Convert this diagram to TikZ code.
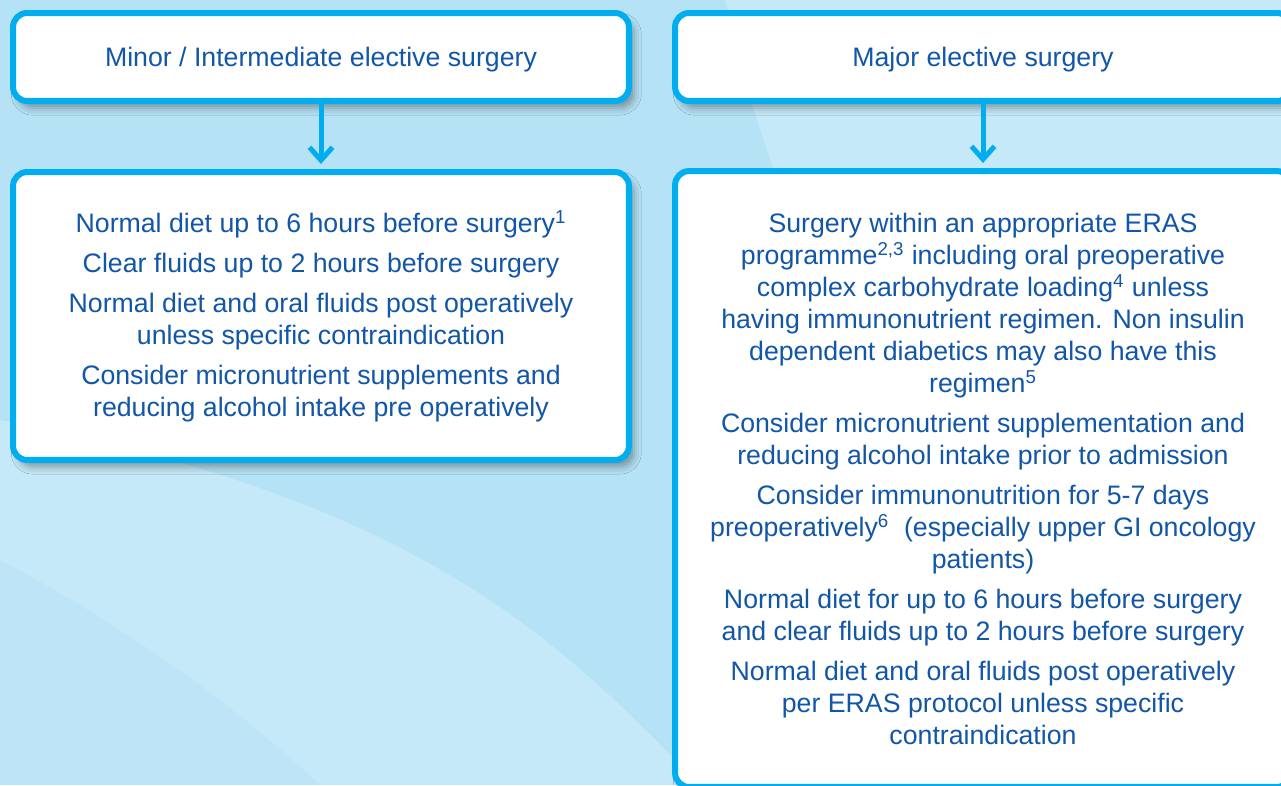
\documentclass[tikz,border=0pt]{standalone}
\usepackage{fontspec}
\setmainfont{Liberation Sans}
\usetikzlibrary{arrows.meta,shadows.blur}
\definecolor{bgblue}{RGB}{197,233,248}
\definecolor{bgdark}{RGB}{181,226,245}
\definecolor{boxline}{RGB}{0,174,239}
\definecolor{txtblue}{RGB}{18,86,168}
\newcommand{\gap}{\\[4.5pt]}
\begin{document}
\begin{tikzpicture}[x=0.02cm,y=-0.02cm,
		stepbox/.style={draw=boxline,line width=0.12cm,rounded corners=0.28cm,fill=white,
			text=txtblue,align=center,minimum width=12.32cm,inner sep=0pt,
			font=\fontsize{15.2}{18.2}\selectfont,
			blur shadow={shadow xshift=3pt,shadow yshift=-4pt,shadow blur radius=4pt,shadow opacity=35}},
		flow/.style={draw=boxline,line width=0.1cm,shorten >=0.1cm,
			-{Straight Barb[length=0.26cm,width=0.46cm]}}]
				\useasboundingbox (0,0) rectangle (1281,785);
				\clip (0,0) rectangle (1281,785);
				\fill[bgblue] (0,0) rectangle (1281,785);
				\fill[bgdark] (0,0) -- (725,0) .. controls (745,90) and (765,150) .. (800,240) -- (800,785) -- (700,785) .. controls (560,640) and (420,500) .. (0,420) -- cycle;
				\fill[bgdark!50!bgblue] (0,560) .. controls (150,640) and (250,720) .. (320,785) -- (0,785) -- cycle;
				\node[stepbox,minimum height=1.76cm,text depth=0pt] (minor) at (321,57) {Minor / Intermediate elective surgery};
				\node[stepbox,minimum height=1.76cm,text depth=0pt] (major) at (983,57) {Major elective surgery};
				\node[stepbox,minimum height=5.76cm] (minorbody) at (321,316) {%
					Normal diet up to 6 hours before surgery\textsuperscript{1}\gap
					Clear fluids up to 2 hours before surgery\gap
					Normal diet and oral fluids post operatively\\
					unless specific contraindication\gap
					Consider micronutrient supplements and\\
					reducing alcohol intake pre operatively};
				\node[stepbox,minimum height=12.32cm] (majorbody) at (983,479) {%
					Surgery within an appropriate ERAS\\
					programme\textsuperscript{2,3} including oral preoperative\\
					complex carbohydrate loading\textsuperscript{4} unless\\
					having immunonutrient regimen. Non insulin\\
					dependent diabetics may also have this\\
					regimen\textsuperscript{5}\gap
					Consider micronutrient supplementation and\\
					reducing alcohol intake prior to admission\gap
					Consider immunonutrition for 5-7 days\\
					preoperatively\textsuperscript{6}\ \ (especially upper GI oncology\\
					patients)\gap
					Normal diet for up to 6 hours before surgery\\
					and clear fluids up to 2 hours before surgery\gap
					Normal diet and oral fluids post operatively\\
					per ERAS protocol unless specific\\
					contraindication};
				\draw[flow] (minor) -- (minorbody);
				\draw[flow] (major) -- (majorbody);
			\end{tikzpicture}
\end{document}
